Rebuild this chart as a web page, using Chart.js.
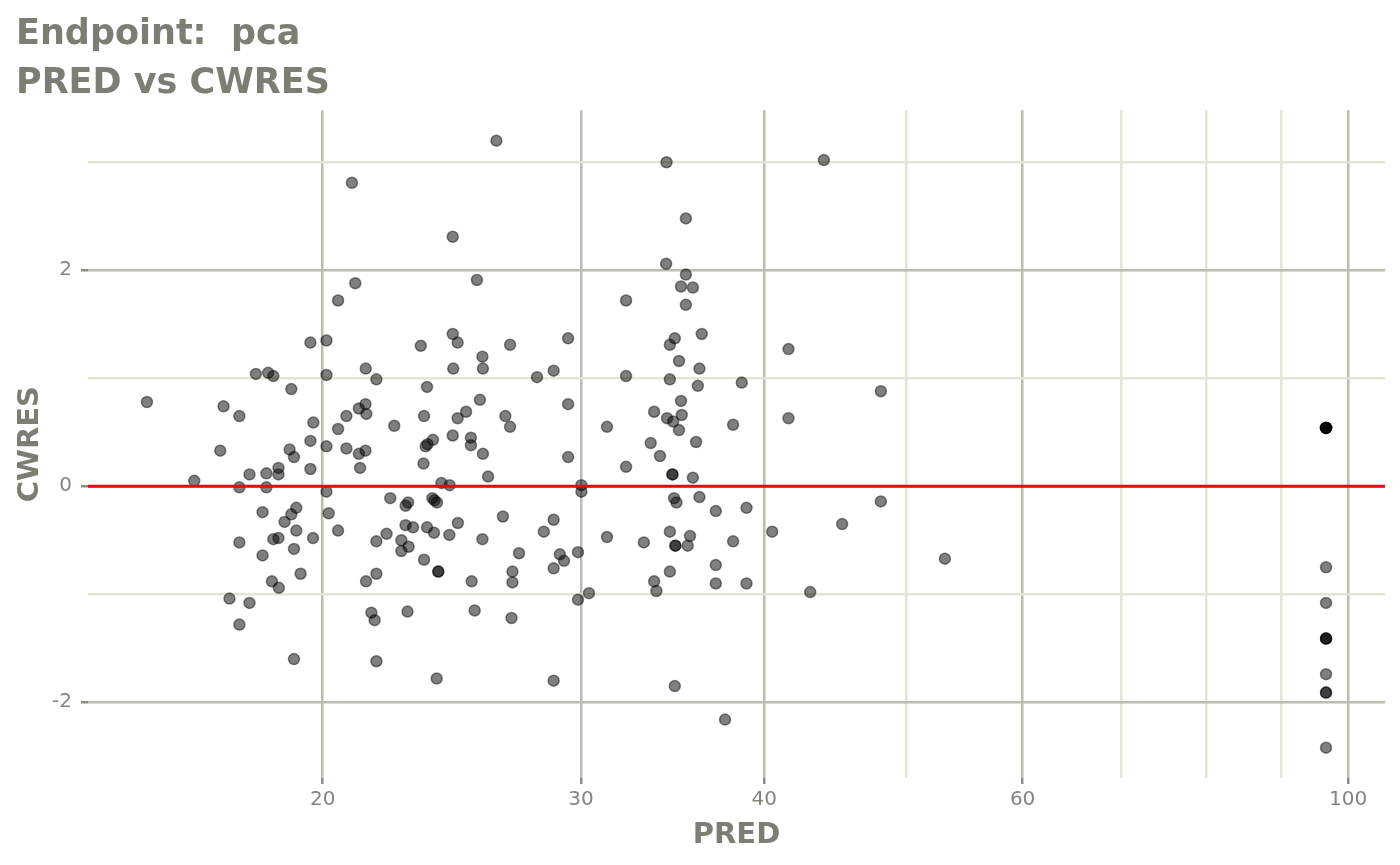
<!DOCTYPE html>
<html>
<head>
<meta charset="utf-8">
<title>PRED vs CWRES</title>
<script src="https://cdn.jsdelivr.net/npm/chart.js@4.4.1/dist/chart.umd.min.js"></script>
<style>
    html, body { margin: 0; padding: 0; background: #ffffff; }
    #wrap { width: 1400px; height: 865px; }
</style>
</head>
<body>
<div id="wrap"><canvas id="cwresChart" width="1400" height="865"></canvas></div>
<script>
// values (PRED on a log axis)
const pred = [
    15.18, 16.35, 17.03, 17.12, 17.55, 17.55, 17.83, 18.01, 18.31, 18.31,
    18.36, 18.51, 18.66, 18.66, 18.99, 19.04, 19.12, 19.62, 19.62, 19.62,
    19.71, 20.12, 20.12, 20.12, 20.12, 20.49, 20.49, 18.20, 19.19, 19.04,
    18.84, 19.19, 18.51, 18.66, 19.70, 17.55, 18.20, 19.12, 19.32, 18.47,
    18.67, 17.28, 17.83, 17.55, 19.12, 20.19, 20.49,
    26.27, 20.94, 24.53, 21.05, 25.48, 23.33, 24.53, 24.72, 26.84, 25.70,
    29.40, 21.40, 24.55, 25.72, 28.74, 21.76, 28.00, 23.56, 25.60, 29.40,
    21.39, 21.17, 20.76, 21.42, 23.45, 25.05, 24.72, 26.64, 26.84, 22.38,
    20.76, 21.17, 21.39, 21.21, 23.51, 23.58, 23.78, 24.53, 25.24, 25.24,
    25.72, 23.43, 25.93, 24.10, 24.41, 29.40, 22.24, 22.87, 22.78, 23.76,
    23.84, 23.93, 26.54, 28.74, 24.73, 28.30, 23.56, 22.78, 23.05, 23.82,
    24.40, 25.70, 22.11, 21.76, 22.63, 22.89, 22.63, 23.45, 23.98, 23.98,
    27.22, 29.02, 29.21, 28.74, 26.94, 26.94, 25.27, 21.76, 21.41, 21.59,
    21.70, 22.85, 25.39, 26.90, 21.76, 23.92, 28.74,
    34.31, 35.37, 34.29, 35.37, 35.10, 35.76, 35.37, 32.20, 34.76, 34.49,
    36.26, 41.55, 34.99, 36.13, 32.20, 34.49, 38.61, 36.04, 35.10, 33.65,
    35.14, 34.34, 34.67, 34.99, 38.09, 41.55, 31.25, 33.47, 35.94, 33.96,
    32.20, 34.63, 34.63, 35.76, 30.02, 30.02, 34.72, 34.85, 36.13, 37.07,
    38.90, 40.50, 31.25, 33.11, 34.49, 35.60, 34.79, 34.79, 35.47, 38.09,
    29.86, 37.07, 34.49, 33.65, 33.77, 37.07, 38.90, 30.38, 29.86, 34.76,
    37.61,
    43.92, 48.03, 48.03, 45.20, 42.99, 53.11,
    96.6, 96.6, 96.6, 96.6, 96.6, 96.6, 96.6, 96.6, 96.6, 96.6,
    96.6, 96.6, 96.6, 96.6, 96.6
];
const cwres = [
    0.78, 0.05, 0.33, 0.74, 0.65, -0.01, 0.11, 1.04, 0.12, -0.01,
    1.05, 1.02, 0.17, 0.11, 0.34, 0.90, 0.27, 1.33, 0.42, 0.16,
    0.59, 1.35, 1.03, 0.37, -0.05, 1.72, 0.53, -0.24, -0.20, -0.26,
    -0.33, -0.41, -0.49, -0.48, -0.48, -0.52, -0.64, -0.58, -0.81, -0.88,
    -0.94, -1.04, -1.08, -1.28, -1.60, -0.25, -0.41,
    3.20, 2.81, 2.31, 1.88, 1.91, 1.30, 1.41, 1.33, 1.31, 1.20,
    1.37, 1.09, 1.09, 1.09, 1.07, 0.99, 1.01, 0.92, 0.80, 0.76,
    0.76, 0.72, 0.65, 0.67, 0.65, 0.69, 0.63, 0.65, 0.55, 0.56,
    0.35, 0.30, 0.33, 0.17, 0.37, 0.39, 0.43, 0.47, 0.45, 0.38,
    0.30, 0.21, 0.09, 0.03, 0.01, 0.27, -0.11, -0.15, -0.18, -0.11,
    -0.13, -0.15, -0.28, -0.31, -0.34, -0.42, -0.38, -0.36, -0.38, -0.43,
    -0.45, -0.49, -0.44, -0.51, -0.50, -0.56, -0.60, -0.68, -0.79, -0.79,
    -0.62, -0.63, -0.69, -0.76, -0.79, -0.89, -0.88, -0.81, -0.88, -1.17,
    -1.24, -1.16, -1.15, -1.22, -1.62, -1.78, -1.80,
    3.00, 2.48, 2.06, 1.96, 1.85, 1.84, 1.68, 1.72, 1.37, 1.31,
    1.41, 1.27, 1.16, 1.09, 1.02, 0.99, 0.96, 0.93, 0.79, 0.69,
    0.66, 0.63, 0.60, 0.52, 0.57, 0.63, 0.55, 0.40, 0.41, 0.28,
    0.18, 0.11, 0.11, 0.08, 0.01, -0.05, -0.11, -0.15, -0.10, -0.23,
    -0.20, -0.42, -0.47, -0.52, -0.42, -0.46, -0.55, -0.55, -0.55, -0.51,
    -0.61, -0.73, -0.79, -0.88, -0.97, -0.90, -0.90, -0.99, -1.05, -1.85,
    -2.16,
    3.02, 0.88, -0.14, -0.35, -0.98, -0.67,
    0.54, 0.54, 0.54, 0.54, 0.54, 0.54, -0.75, -1.08, -1.41, -1.41,
    -1.41, -1.74, -1.91, -1.91, -2.42
];

const xTicks = [20, 30, 40, 50, 60, 70, 80, 90, 100];
const xLabels = ['20', '30', '40', '', '60', '', '', '', '100'];
const xMajor = [20, 30, 40, 60, 100];
const yTicks = [-2, -1, 0, 1, 2, 3];
const yLabels = ['-2', '', '0', '', '2', ''];
const yMajor = [-2, 0, 2];

const titleColor = '#7d7d73';
const tickColor = '#85857f';
const majorGrid = '#bcbcb0';
const minorGrid = '#e3e5d6';

document.addEventListener('DOMContentLoaded', function() {

    // ggplot-style 5% expansion of the data range (log for x)
    const lx = pred.map(v => Math.log10(v));
    const lxMin = Math.min(...lx), lxMax = Math.max(...lx);
    const xMin = Math.pow(10, lxMin - 0.05 * (lxMax - lxMin));
    const xMax = Math.pow(10, lxMax + 0.05 * (lxMax - lxMin));
    const yLo = Math.min(...cwres), yHi = Math.max(...cwres);
    const yMin = yLo - 0.05 * (yHi - yLo);
    const yMax = yHi + 0.05 * (yHi - yLo);

    const points = pred.map((p, i) => ({ x: p, y: cwres[i] }));

    const ctx = document.getElementById('cwresChart');
    new Chart(ctx.getContext('2d'), {
        type: 'scatter',
        data: {
            datasets: [
                {
                    type: 'line',
                    label: 'zero',
                    data: [{ x: xMin, y: 0 }, { x: xMax, y: 0 }],
                    borderColor: 'rgb(228, 12, 12)',
                    borderWidth: 3,
                    pointRadius: 0,
                    fill: false,
                    order: 0
                },
                {
                    label: 'CWRES',
                    data: points,
                    backgroundColor: 'rgba(0, 0, 0, 0.5)',
                    borderColor: 'rgba(0, 0, 0, 0.45)',
                    borderWidth: 1.5,
                    pointRadius: 5.5,
                    order: 1
                }
            ]
        },
        options: {
            responsive: false,
            animation: false,
            devicePixelRatio: 1,
            layout: {
                padding: { left: 16, right: 15, top: 0, bottom: 0 }
            },
            plugins: {
                legend: { display: false },
                tooltip: { enabled: false },
                title: {
                    display: true,
                    text: ['Endpoint:  pca', 'PRED vs CWRES'],
                    align: 'start',
                    color: titleColor,
                    padding: { top: 11, bottom: 2 },
                    font: { family: 'DejaVu Sans', size: 35, weight: 'bold', lineHeight: 1.39 }
                }
            },
            scales: {
                x: {
                    type: 'logarithmic',
                    min: xMin,
                    max: xMax,
                    afterBuildTicks: function(scale) {
                        scale.ticks = xTicks.map(v => ({ value: v }));
                    },
                    afterFit: function(scale) {
                        scale.height = 87;
                    },
                    border: { display: false },
                    grid: {
                        lineWidth: 2.5,
                        tickLength: 6,
                        color: c => xMajor.includes(c.tick && c.tick.value) ? majorGrid : minorGrid,
                        tickColor: c => xMajor.includes(c.tick && c.tick.value) ? '#8c8c84' : 'rgba(0,0,0,0)'
                    },
                    ticks: {
                        autoSkip: false,
                        maxRotation: 0,
                        padding: 4,
                        color: tickColor,
                        font: { family: 'DejaVu Sans', size: 20 },
                        callback: function(value) {
                            const i = xTicks.indexOf(value);
                            return i >= 0 ? xLabels[i] : '';
                        }
                    },
                    title: {
                        display: true,
                        text: 'PRED',
                        color: titleColor,
                        padding: { top: 0, bottom: 12 },
                        font: { family: 'DejaVu Sans', size: 29, weight: 'bold', lineHeight: 1.2 }
                    }
                },
                y: {
                    min: yMin,
                    max: yMax,
                    afterBuildTicks: function(scale) {
                        scale.ticks = yTicks.map(v => ({ value: v }));
                    },
                    afterFit: function(scale) {
                        scale.width = 72;
                    },
                    border: { display: false },
                    grid: {
                        lineWidth: 2.5,
                        tickLength: 7,
                        color: c => yMajor.includes(c.tick && c.tick.value) ? majorGrid : minorGrid,
                        tickColor: c => yMajor.includes(c.tick && c.tick.value) ? '#8c8c84' : 'rgba(0,0,0,0)'
                    },
                    ticks: {
                        autoSkip: false,
                        padding: 9,
                        color: tickColor,
                        font: { family: 'DejaVu Sans', size: 20 },
                        callback: function(value) {
                            const i = yTicks.indexOf(value);
                            return i >= 0 ? yLabels[i] : '';
                        }
                    },
                    title: {
                        display: true,
                        text: 'CWRES',
                        color: titleColor,
                        padding: { top: -3, bottom: 0 },
                        font: { family: 'DejaVu Sans', size: 29, weight: 'bold', lineHeight: 1.2 }
                    }
                }
            }
        }
    });
});
</script>
</body>
</html>
